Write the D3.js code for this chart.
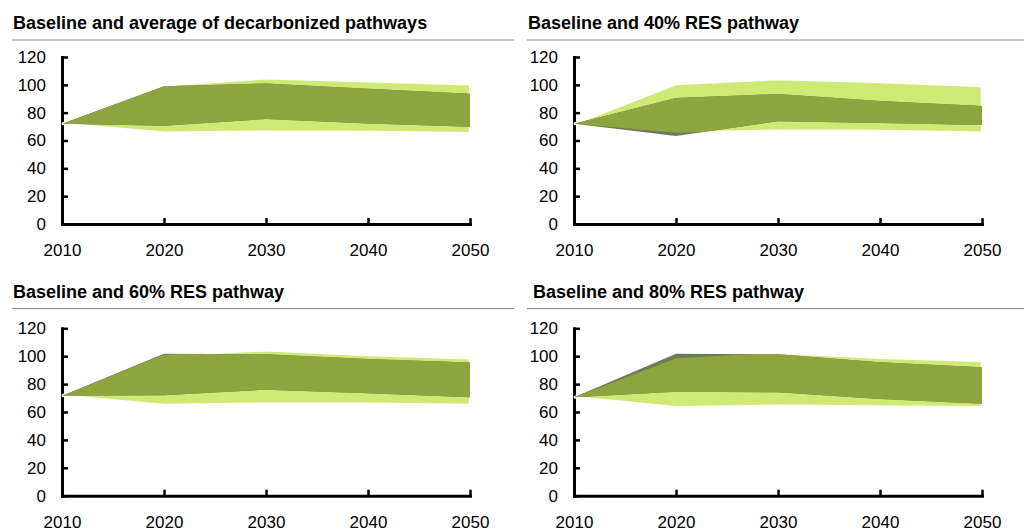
<!DOCTYPE html>
<html>
<head>
<meta charset="utf-8">
<script src="https://cdn.jsdelivr.net/npm/d3@7"></script>
<style>
  html, body { margin: 0; padding: 0; background: #fff; }
  svg { display: block; }
  text { font-family: "Liberation Sans", Arial, sans-serif; }
</style>
</head>
<body>
<svg id="chart" width="1024" height="531"></svg>
<script>
// ---- data ----
const years = [2010, 2020, 2030, 2040, 2050];
const yTicks = [0, 20, 40, 60, 80, 100, 120];
const titles = [
  "Baseline and average of decarbonized pathways",
  "Baseline and 40% RES pathway",
  "Baseline and 60% RES pathway",
  "Baseline and 80% RES pathway"
];
// baseline range (light green)
const baselineHigh = [
  [72, 99.5, 104.8, 102.6, 100.5],
  [72, 100.6, 104.2, 102, 99.1],
  [71.7, 101, 104.2, 100.9, 98.5],
  [70.5, 98.5, 102.5, 98.9, 96.8]
];
const baselineLow = [
  [72, 65.5, 66.3, 66.1, 65.2],
  [72, 65.5, 67, 66.8, 65.6],
  [71.7, 65, 66, 66, 65],
  [70.5, 63.4, 64.5, 64, 63.4]
];
// pathway range
const pathwayHigh = [
  [72, 99, 101, 97.2, 93.6],
  [72, 90.5, 93.4, 88.4, 84.8],
  [71.7, 101.8, 101.4, 98, 95.4],
  [70.5, 101.8, 101.4, 95.6, 92]
];
const pathwayLow = [
  [72, 70.6, 75.4, 72.3, 69.9],
  [72, 63.2, 73.8, 72.6, 71.1],
  [71.7, 72, 76, 73.4, 70.5],
  [70.5, 74.6, 74.1, 69.3, 66]
];

// ---- layout ----
const colX = [0, 512];
const rows = [
  { titleY: 29, lineY: 40, top: 57, bottom: 224 },
  { titleY: 297.5, lineY: 308.5, top: 328.3, bottom: 495.7 }
];
const panels = [
  { col: 0, row: 0, titleX: 13, lineX0: 12, lineX1: 514, axisX: 62, endX: 470 },
  { col: 1, row: 0, titleX: 16, lineX0: 15, lineX1: 512, axisX: 62, endX: 470 },
  { col: 0, row: 1, titleX: 13, lineX0: 12, lineX1: 514, axisX: 62, endX: 470 },
  { col: 1, row: 1, titleX: 21, lineX0: 15, lineX1: 512, axisX: 62, endX: 470 }
];

const C_LIGHT = "#cfea74";
const C_OLIVE = "#8da43f";
const C_GREY = "#6d7a5c";

const svg = d3.select("#chart");

panels.forEach((p, i) => {
  const r = rows[p.row];
  const g = svg.append("g").attr("transform", `translate(${colX[p.col]},0)`);

  g.append("text")
    .attr("x", p.titleX).attr("y", r.titleY)
    .attr("font-size", 18).attr("font-weight", "bold").attr("fill", "#000")
    .text(titles[i]);

  g.append("line")
    .attr("x1", p.lineX0).attr("x2", p.lineX1)
    .attr("y1", r.lineY).attr("y2", r.lineY)
    .attr("stroke", "#8a8a8a").attr("stroke-width", 1);

  const x = d3.scaleLinear().domain([2010, 2050]).range([p.axisX, p.endX]);
  const y = d3.scaleLinear().domain([0, 120]).range([r.bottom, r.top]);

  // axes
  const yAxis = d3.axisLeft(y).tickValues(yTicks).tickSize(-6).tickSizeOuter(0).tickPadding(16);
  const xAxis = d3.axisBottom(x).tickValues(years).tickSize(-6).tickSizeOuter(0).tickPadding(20)
    .tickFormat(d3.format("d"));

  const gy = g.append("g").attr("transform", `translate(${p.axisX},0)`).call(yAxis);
  const gx = g.append("g").attr("transform", `translate(0,${r.bottom})`).call(xAxis);
  [gx, gy].forEach(a => {
    a.select(".domain").attr("stroke", "#000").attr("stroke-width", 3).attr("stroke-linecap", "square");
    a.selectAll(".tick line").attr("stroke", "#000").attr("stroke-width", 2.5);
    a.selectAll(".tick text").attr("font-size", 17).attr("fill", "#000")
      .attr("font-family", "'Liberation Sans', Arial, sans-serif");
  });
  gx.selectAll(".tick text").attr("dy", "0.71em");

  // bands
  const base = years.map((yr, k) => ({ yr, lo: baselineLow[i][k], hi: baselineHigh[i][k] }));
  const path = years.map((yr, k) => ({ yr, lo: pathwayLow[i][k], hi: pathwayHigh[i][k] }));
  const area = d3.area().x(d => x(d.yr)).y0(d => y(d.lo)).y1(d => y(d.hi));

  const clipId = "clip" + i;
  g.append("clipPath").attr("id", clipId).append("path").attr("d", area(base));

  g.append("path").attr("d", area(base))
    .attr("fill", C_LIGHT).attr("stroke", "#fff").attr("stroke-width", 2.5)
    .attr("stroke-linejoin", "bevel");
  g.append("path").attr("d", area(path)).attr("fill", C_GREY);
  g.append("path").attr("d", area(path)).attr("fill", C_OLIVE).attr("clip-path", `url(#${clipId})`);
});
</script>
</body>
</html>
